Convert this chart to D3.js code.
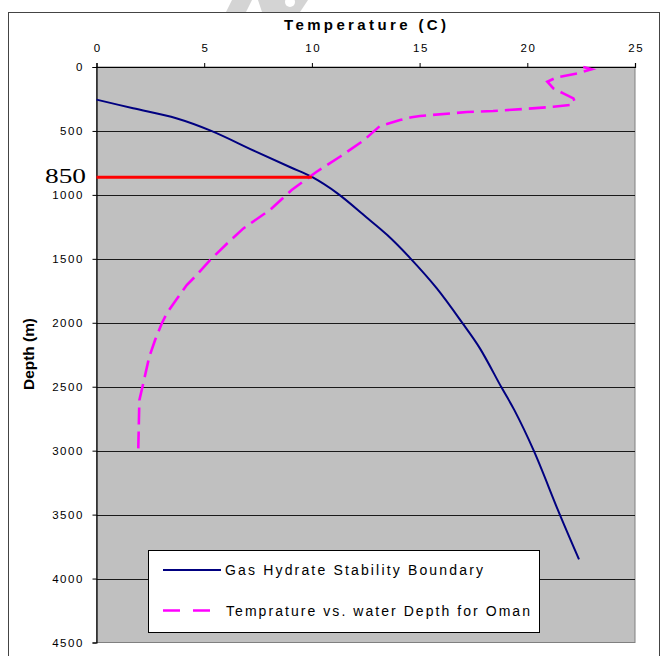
<!DOCTYPE html>
<html><head><meta charset="utf-8">
<script src="https://cdn.jsdelivr.net/npm/d3@7"></script>
<style>body{margin:0;background:#fff}svg{display:block}</style>
</head><body>
<svg id="c" width="662" height="656"></svg>
<script>
// ---- data ----
const xTicks = [0, 5, 10, 15, 20, 25];
const yTicks = [0, 500, 1000, 1500, 2000, 2500, 3000, 3500, 4000, 4500];
const hydrateTemp  = [0, 1.7, 3.7, 5.3, 7.4, 9.0, 10.0, 11.2, 12.5, 13.5, 14.55, 15.8, 17.0, 17.8, 18.8, 19.4, 20.3, 21.5, 22.4];
const hydrateDepth = [255, 323, 401, 498, 662, 784, 860, 990, 1171, 1314, 1492, 1731, 2005, 2200, 2505, 2683, 3000, 3496, 3850];
const omanTemp  = [22.6, 22.99, 22.35, 21.37, 20.93, 21.21, 21.67, 22.14, 22.2, 21.98, 21.21, 19.8, 18.41, 17.2, 15.02, 14.63, 14.09, 13.16, 12.39, 11.3, 10.22, 9.06, 8.05, 6.82, 6.04, 5.27, 4.65, 4.19, 3.8, 3.26, 3.03, 2.72, 2.45, 2.17, 1.99, 1.94];
const omanDepth = [0, 18, 49, 81, 115, 167, 206, 245, 271, 297, 311, 329, 344, 352, 383, 393, 415, 461, 576, 702, 819, 962, 1118, 1262, 1384, 1510, 1627, 1705, 1797, 1927, 2005, 2135, 2266, 2474, 2605, 2982];
const markDepth = 850, markTemp = 10, markLabel = "850";
const seriesNames = ["Gas Hydrate Stability Boundary", "Temprature vs. water Depth for Oman"];
const xTitle = "Temperature (C)", yTitle = "Depth (m)";

const svg = d3.select("#c");
const L = 96.5, R = 635, T = 67, B = 642.5;
const x = d3.scaleLinear().domain([0, 25]).range([L, R]);
const y = d3.scaleLinear().domain([0, 4500]).range([T, B]);

// outer frame
svg.append("rect").attr("x", 8.5).attr("y", 12.5).attr("width", 651).attr("height", 660)
  .attr("fill", "#fff").attr("stroke", "#444").attr("stroke-width", 1);
// faint watermark fragments at top
svg.append("path").attr("d", "M232,0 L252,0 L246,12 L226,12 Z").attr("fill", "#d4d4d4");
svg.append("path").attr("d", "M258,0 L308,0 L300,12 L262,12 Z").attr("fill", "#d4d4d4");
svg.append("circle").attr("cx", 290).attr("cy", 2).attr("r", 5).attr("fill", "#fff");

// plot area
svg.append("rect").attr("x", L).attr("y", T).attr("width", R - L).attr("height", B - T)
  .attr("fill", "#c0c0c0").attr("stroke", "#808080");

// gridlines
svg.append("g").selectAll("line").data(yTicks.filter(d => d > 0 && d < 4500)).join("line")
  .attr("x1", L).attr("x2", R).attr("y1", d => Math.round(y(d)) + 0.5).attr("y2", d => Math.round(y(d)) + 0.5)
  .attr("stroke", "#1a1a1a").attr("stroke-width", 1);

// axes
const font = "'Liberation Sans', Arial, sans-serif";
const xAxis = d3.axisTop(x).tickValues(xTicks).tickSize(4).tickPadding(11).tickFormat(d3.format("d"));
const gx = svg.append("g").attr("transform", `translate(0,${T})`).call(xAxis);
const yAxis = d3.axisLeft(y).tickValues(yTicks).tickSize(4).tickPadding(10).tickFormat(d3.format("d"));
const gy = svg.append("g").attr("transform", `translate(${L},0)`).call(yAxis);
[gx, gy].forEach(g => {
  g.select(".domain").attr("stroke", "#000").attr("stroke-width", 1.2);
  g.selectAll(".tick line").attr("stroke", "#000");
  g.selectAll("text").attr("font-family", font).attr("font-size", 11.5).attr("fill", "#000")
    .style("letter-spacing", "1.6px");
});
gy.selectAll(".tick text").attr("dx", "1.6px");
gx.selectAll(".tick text").attr("dx", "0.8px");

// titles
svg.append("text").attr("x", 365).attr("y", 30).attr("text-anchor", "middle")
  .attr("font-family", font).attr("font-weight", "bold").attr("font-size", 15)
  .attr("textLength", 162).attr("lengthAdjust", "spacing").text(xTitle);
svg.append("text").attr("transform", "translate(34,354) rotate(-90)").attr("text-anchor", "middle")
  .attr("font-family", font).attr("font-weight", "bold").attr("font-size", 15)
  .attr("textLength", 72).attr("lengthAdjust", "spacingAndGlyphs").text(yTitle);

// lines
const line = d3.line().x(d => x(d[0])).y(d => y(d[1])).curve(d3.curveCatmullRom);
svg.append("path").datum(hydrateTemp.map((t, i) => [t, hydrateDepth[i]]))
  .attr("d", line).attr("fill", "none").attr("stroke", "#000080").attr("stroke-width", 2);
svg.append("path").datum(omanTemp.map((t, i) => [t, omanDepth[i]]))
  .attr("d", d3.line().x(d => x(d[0])).y(d => y(d[1]))).attr("fill", "none").attr("stroke", "#ff00ff")
  .attr("stroke-width", 2.6).attr("stroke-dasharray", "17,7");

// 850 marker
svg.append("line").attr("x1", x(0)).attr("x2", x(markTemp)).attr("y1", y(markDepth) + 1.5).attr("y2", y(markDepth) + 1.5)
  .attr("stroke", "#ff0000").attr("stroke-width", 3);
svg.append("text").attr("x", 86).attr("y", 183).attr("text-anchor", "end")
  .attr("font-family", "'Liberation Serif', 'Times New Roman', serif").attr("font-size", 21)
  .attr("textLength", 41).attr("lengthAdjust", "spacingAndGlyphs").attr("fill", "#000").text(markLabel);

// legend
const lg = svg.append("g");
lg.append("rect").attr("x", 148.5).attr("y", 550.5).attr("width", 391).attr("height", 82)
  .attr("fill", "#fff").attr("stroke", "#000");
lg.append("line").attr("x1", 163).attr("x2", 221).attr("y1", 570).attr("y2", 570)
  .attr("stroke", "#000080").attr("stroke-width", 2);
lg.append("line").attr("x1", 163).attr("x2", 213).attr("y1", 610.5).attr("y2", 610.5)
  .attr("stroke", "#ff00ff").attr("stroke-width", 2.6).attr("stroke-dasharray", "17,13");
lg.append("text").attr("x", 225).attr("y", 574.5).attr("font-family", font).attr("font-size", 14)
  .attr("textLength", 258).attr("lengthAdjust", "spacing").text(seriesNames[0]);
lg.append("text").attr("x", 226).attr("y", 615.5).attr("font-family", font).attr("font-size", 14)
  .attr("textLength", 304).attr("lengthAdjust", "spacing").text(seriesNames[1]);
</script>
</body></html>
